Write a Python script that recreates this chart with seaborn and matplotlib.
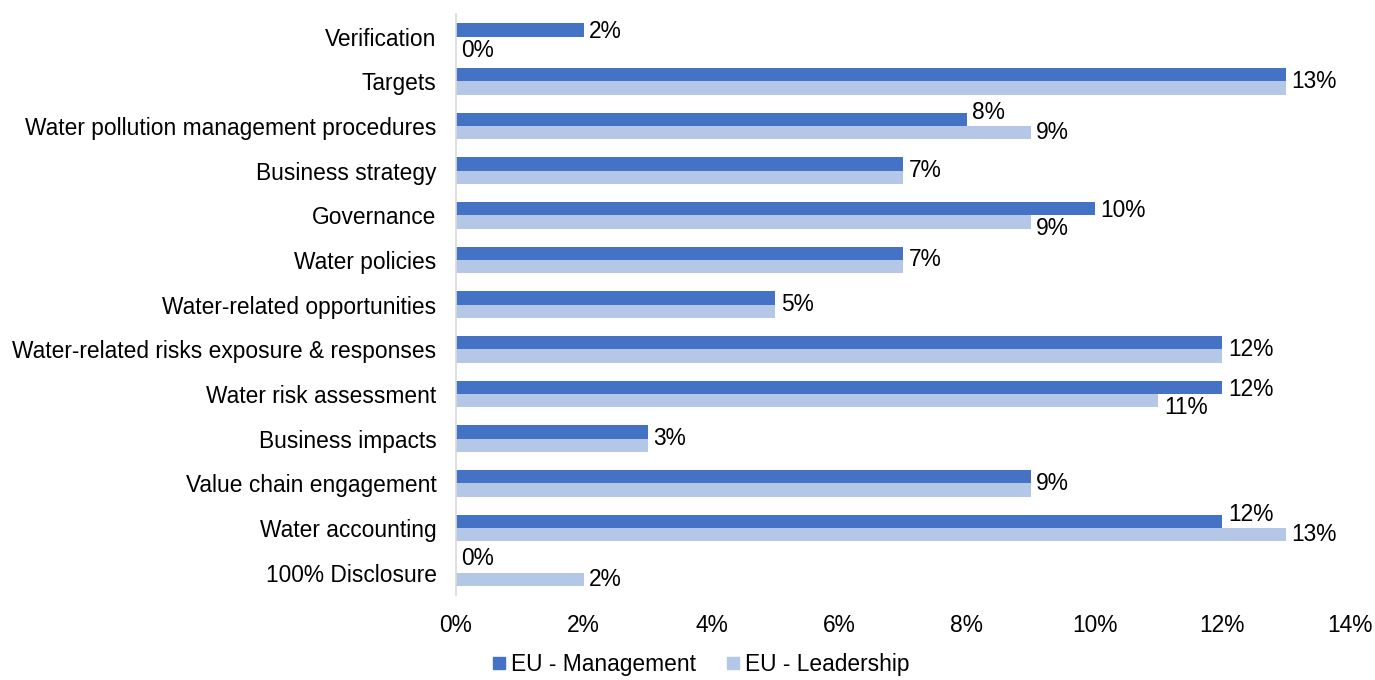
import pandas as pd
import matplotlib.pyplot as plt
import seaborn as sns

# --- Dados ---
categories = [
    "Verification",
    "Targets",
    "Water pollution management procedures",
    "Business strategy",
    "Governance",
    "Water policies",
    "Water-related opportunities",
    "Water-related risks exposure & responses",
    "Water risk assessment",
    "Business impacts",
    "Value chain engagement",
    "Water accounting",
    "100% Disclosure",
]
management = [2, 13, 8, 7, 10, 7, 5, 12, 12, 3, 9, 12, 0]
leadership = [0, 13, 9, 7, 9, 7, 5, 12, 11, 3, 9, 13, 2]
series_names = ["EU - Management", "EU - Leadership"]
colors = ["#4472C4", "#B4C7E7"]
x_ticks = [0, 2, 4, 6, 8, 10, 12, 14]

df = pd.DataFrame({
    "category": categories * 2,
    "value": management + leadership,
    "series": [series_names[0]] * len(categories) + [series_names[1]] * len(categories),
})

sns.set_theme(style="white")
plt.rcParams["font.family"] = ["Liberation Sans", "DejaVu Sans"]
fs = 16.4

fig = plt.figure(figsize=(13.75, 6.8), dpi=100)
ax = fig.add_axes([0.3316, 0.125, 0.9818 - 0.3316, 0.854])

sns.barplot(data=df, y="category", x="value", hue="series", orient="h",
            palette=colors, width=0.6, gap=0, ax=ax, legend=False,
            saturation=1, linewidth=0)

ax.set_xlim(0, 14)
ax.set_ylim(len(categories) - 0.5, -0.5)
ax.set_xticks(x_ticks)
ax.set_xticklabels([f"{t}%" for t in x_ticks])
ax.set_xlabel("")
ax.set_ylabel("")
ax.tick_params(axis="both", length=0, labelsize=fs, colors="#000000")
ax.tick_params(axis="y", pad=14)
ax.tick_params(axis="x", pad=13.5)

for side in ["top", "right", "bottom"]:
    ax.spines[side].set_visible(False)
ax.spines["left"].set_color("#D9D9D9")
ax.spines["left"].set_linewidth(1.2)

# rótulos de dados (deslocados como no Excel para não se sobreporem)
px = 0.72  # 1 pixel em pontos
for i, (m, l) in enumerate(zip(management, leadership)):
    if m == l:
        ax.annotate(f"{m}%", xy=(m, i), xytext=(4, 0), textcoords="offset points",
                    va="center", ha="left", fontsize=fs, color="#000000")
        continue
    if m > l:
        dy_m, dy_l = -2 * px, -7 * px
    else:
        dy_m, dy_l = 7 * px, 0
    ax.annotate(f"{m}%", xy=(m, i - 0.15), xytext=(4, dy_m), textcoords="offset points",
                va="center", ha="left", fontsize=fs, color="#000000")
    ax.annotate(f"{l}%", xy=(l, i + 0.15), xytext=(4, dy_l), textcoords="offset points",
                va="center", ha="left", fontsize=fs, color="#000000")

handles = [plt.Line2D([0], [0], marker="s", linestyle="", markersize=9,
                      markerfacecolor=c, markeredgecolor=c) for c in colors]
fig.legend(handles, series_names, loc="center", bbox_to_anchor=(0.508, 0.023),
           ncol=2, frameon=False, fontsize=fs, handletextpad=0.05,
           columnspacing=1.1, handlelength=1.0, labelcolor="#000000")

plt.savefig("out.png", dpi=100)
plt.close()
